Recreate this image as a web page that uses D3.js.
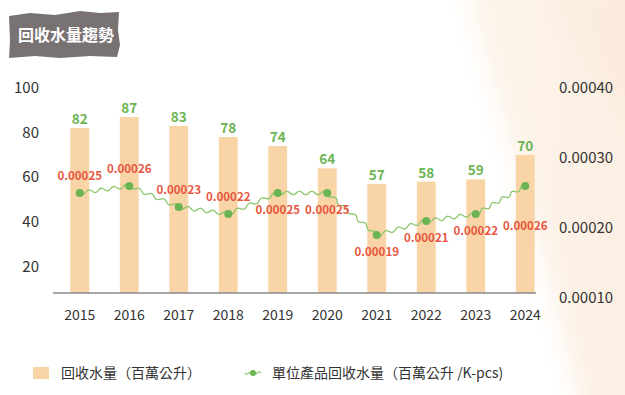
<!DOCTYPE html>
<html>
<head>
<meta charset="utf-8">
<script src="https://cdn.jsdelivr.net/npm/d3@7"></script>
<style>
  body { margin: 0; background: #fff; }
  svg { display: block; font-family: "Noto Sans CJK TC", "Noto Sans", sans-serif; }
</style>
</head>
<body>
<svg id="chart"></svg>
<script>
// data
const years = ["2015", "2016", "2017", "2018", "2019", "2020", "2021", "2022", "2023", "2024"];
const waterVolume = [82, 87, 83, 78, 74, 64, 57, 58, 59, 70];           // 百萬公升
const waterPerUnit = [0.00025, 0.00026, 0.00023, 0.00022, 0.00025, 0.00025, 0.00019, 0.00021, 0.00022, 0.00026];
const leftTicks = [20, 40, 60, 80, 100];
const rightTicks = [0.0001, 0.0002, 0.0003, 0.0004];
const unitLabelSide = ["up", "up", "up", "up", "down", "down", "down", "down", "down", "far"];

const W = 625, H = 395;
const baseY = 293;

const svg = d3.select("#chart").attr("width", W).attr("height", H);

// soft peach background decoration on the right
const defs = svg.append("defs");
defs.append("filter").attr("id", "soft")
    .attr("x", "-20%").attr("y", "-20%").attr("width", "140%").attr("height", "140%")
  .append("feGaussianBlur").attr("stdDeviation", 12);
const grad = defs.append("linearGradient").attr("id", "bgGrad")
    .attr("x1", "0").attr("y1", "0").attr("x2", "1").attr("y2", "0.2");
grad.append("stop").attr("offset", "0").attr("stop-color", "#fdf5ec");
grad.append("stop").attr("offset", "1").attr("stop-color", "#fcefe2");
svg.append("path")
    .attr("d", "M460,-30 L660,-30 L660,430 L585,430 C560,300 515,170 460,-30 Z")
    .attr("fill", "url(#bgGrad)")
    .attr("filter", "url(#soft)");
svg.append("path")
    .attr("d", "M550,-20 L660,-20 L660,140 C600,100 575,50 550,-20 Z")
    .attr("fill", "#f9e6d3").attr("opacity", 0.4)
    .attr("filter", "url(#soft)");

// title tag with ragged edges
svg.append("path")
    .attr("d", "M9,16 L30,13 L55,15 L80,11 L100,13 L119,12 L118,30 L120,45 L117,57 L90,56 L60,58 L35,56 L9,58 L10,40 Z")
    .attr("fill", "#787272");
svg.append("text")
    .attr("x", 18).attr("y", 41)
    .attr("fill", "#fff")
    .attr("font-weight", "bold")
    .style("font-size", "16px")
    .text("回收水量趨勢");

// scales
const x = d3.scaleBand()
    .domain(years)
    .range([55, 550])
    .paddingInner(0.62)
    .paddingOuter(0.31);

const yLeft = d3.scaleLinear()
    .domain([0, 100])
    .range([311, 88]);

const yRight = d3.scaleLinear()
    .domain([0.0001, 0.0004])
    .range([298, 88]);

// left axis labels
svg.append("g")
  .selectAll("text")
  .data(leftTicks)
  .join("text")
    .attr("x", 39)
    .attr("y", d => yLeft(d))
    .attr("dy", "0.35em")
    .attr("text-anchor", "end")
    .attr("fill", "#333")
    .style("font-size", "15px")
    .text(d => d);

// right axis labels
svg.append("g")
  .selectAll("text")
  .data(rightTicks)
  .join("text")
    .attr("x", 559)
    .attr("y", d => yRight(d))
    .attr("dy", "0.35em")
    .attr("text-anchor", "start")
    .attr("fill", "#333")
    .style("font-size", "15px")
    .text(d => d3.format(".5f")(d));

// bars
svg.append("g")
  .selectAll("rect")
  .data(years)
  .join("rect")
    .attr("x", d => x(d))
    .attr("width", x.bandwidth())
    .attr("y", (d, i) => yLeft(waterVolume[i]))
    .attr("height", (d, i) => baseY - yLeft(waterVolume[i]))
    .attr("fill", "#f8d4a6");

// baseline
svg.append("line")
    .attr("x1", 53).attr("x2", 536)
    .attr("y1", baseY).attr("y2", baseY)
    .attr("stroke", "#8a8a8a")
    .attr("stroke-width", 1.5);

// year labels
svg.append("g")
  .selectAll("text")
  .data(years)
  .join("text")
    .attr("x", d => x(d) + x.bandwidth() / 2)
    .attr("y", 315)
    .attr("dy", "0.35em")
    .attr("text-anchor", "middle")
    .attr("fill", "#333")
    .style("font-size", "14px")
    .text(d => d);

// bar value labels
svg.append("g")
  .selectAll("text")
  .data(years)
  .join("text")
    .attr("x", d => x(d) + x.bandwidth() / 2)
    .attr("y", (d, i) => yLeft(waterVolume[i]) - 4)
    .attr("text-anchor", "middle")
    .attr("fill", "#6cb452")
    .attr("font-weight", "bold")
    .style("font-size", "13.5px")
    .text((d, i) => waterVolume[i]);

// wavy line between points (decorative squiggle along each segment)
const pts = years.map((d, i) => [x(d) + x.bandwidth() / 2, yRight(waterPerUnit[i])]);

function wavy(points, amp, wave) {
  let out = [];
  for (let k = 0; k < points.length - 1; k++) {
    const [x0, y0] = points[k], [x1, y1] = points[k + 1];
    const len = Math.hypot(x1 - x0, y1 - y0);
    const n = Math.max(1, Math.round(len / wave));
    const nx = -(y1 - y0) / len, ny = (x1 - x0) / len;
    const steps = n * 12;
    for (let s = 0; s <= steps; s++) {
      if (k > 0 && s == 0) continue;
      const t = s / steps;
      const off = amp * Math.sin(2 * Math.PI * n * t);
      out.push([x0 + (x1 - x0) * t + nx * off, y0 + (y1 - y0) * t + ny * off]);
    }
  }
  return out;
}

svg.append("path")
    .attr("d", d3.line().curve(d3.curveBasis)(wavy(pts, 1.8, 12)))
    .attr("fill", "none")
    .attr("stroke", "#8cc76e")
    .attr("stroke-width", 1.3);

svg.append("g")
  .selectAll("circle")
  .data(pts)
  .join("circle")
    .attr("cx", d => d[0])
    .attr("cy", d => d[1])
    .attr("r", 4)
    .attr("fill", "#6cb452");

// per-unit labels
const sideDy = { up: -17, down: 17, far: 40 };
svg.append("g")
  .selectAll("text")
  .data(pts)
  .join("text")
    .attr("x", d => d[0])
    .attr("y", (d, i) => d[1] + sideDy[unitLabelSide[i]])
    .attr("dy", "0.35em")
    .attr("text-anchor", "middle")
    .attr("fill", "#e8563f")
    .attr("font-weight", "bold")
    .style("font-size", "11.5px")
    .text((d, i) => d3.format(".5f")(waterPerUnit[i]));

// legend
const leg = svg.append("g");
leg.append("rect")
    .attr("x", 33).attr("y", 367)
    .attr("width", 16).attr("height", 12)
    .attr("fill", "#f8d4a6");
leg.append("text")
    .attr("x", 61).attr("y", 373)
    .attr("dy", "0.35em")
    .attr("fill", "#333")
    .style("font-size", "14px")
    .text("回收水量（百萬公升）");

leg.append("path")
    .attr("d", d3.line().curve(d3.curveBasis)(wavy([[245, 373], [261, 373]], 1.2, 8)))
    .attr("fill", "none")
    .attr("stroke", "#8cc76e")
    .attr("stroke-width", 1.3);
leg.append("circle")
    .attr("cx", 253).attr("cy", 373)
    .attr("r", 3)
    .attr("fill", "#6cb452");
leg.append("text")
    .attr("x", 272).attr("y", 373)
    .attr("dy", "0.35em")
    .attr("fill", "#333")
    .style("font-size", "14px")
    .text("單位產品回收水量（百萬公升 /K-pcs)");
</script>
</body>
</html>
